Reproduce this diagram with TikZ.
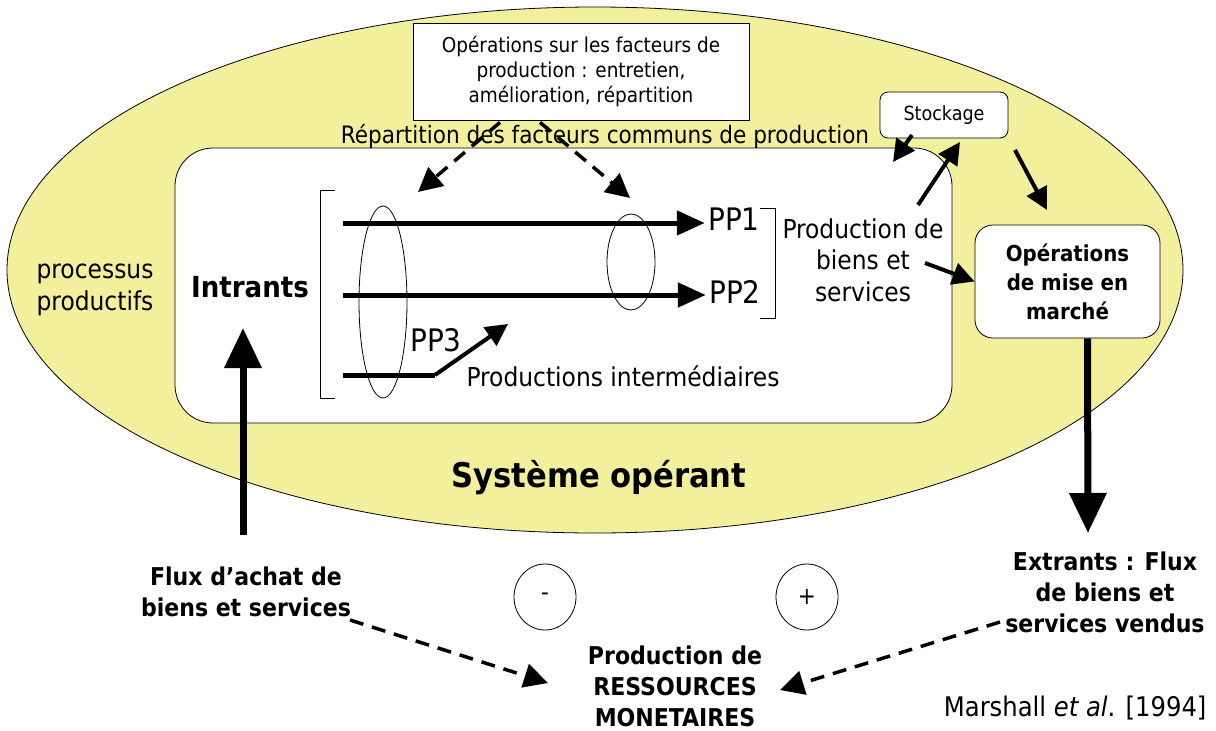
\documentclass[tikz,border=0pt]{standalone}
\usepackage{fontspec}
\setmainfont{DejaVu Sans Condensed}
\usepackage{xcolor}
\usetikzlibrary{positioning,arrows.meta,shapes.geometric}
\definecolor{jaune}{RGB}{243,240,157}

\begin{document}
\begin{tikzpicture}[x=1pt,y=-1pt,
        fleche/.style={line width=4pt, -{Triangle[length=22pt,width=22pt]}},
        grosse/.style={line width=7pt, -{Triangle[length=40pt,width=36pt]}},
        trait/.style={line width=5pt, -{Triangle[length=28pt,width=24pt]}},
        tirets/.style={line width=3.5pt, dash pattern=on 14pt off 9pt, -{Triangle[length=24pt,width=24pt]}},
        petit/.style={align=center, font=\fontsize{20.5}{25}\selectfont},
        moyen/.style={align=center, font=\fontsize{26}{31.5}\selectfont},
        gras/.style={align=center, font=\bfseries\fontsize{24.5}{31}\selectfont},
        rond/.style={ellipse, draw, thick, minimum width=62pt, minimum height=66pt, font=\fontsize{24}{28}\selectfont}]
        \useasboundingbox (0,0) rectangle (1216,731);
        \node[ellipse, draw, thick, fill=jaune, minimum width=1176pt, minimum height=526pt] (processus) at (595,270) {};
        \node[draw, thick, fill=white, rounded corners=38pt, minimum width=777pt, minimum height=275pt] (systeme) at (563.5,285.5) {};
        \node[draw, thick, fill=white, minimum width=336pt, minimum height=97pt, petit] (facteurs) at (581,71.5) {Opérations sur les facteurs de\\production : entretien,\\amélioration, répartition};
        \node[moyen, font=\fontsize{24}{30}\selectfont] (repartition) at (605,136) {Répartition des facteurs communs de production};
        \node[draw, thick, fill=white, rounded corners=8pt, minimum width=128pt, minimum height=46pt, petit, font=\fontsize{19.5}{24}\selectfont] (stockage) at (944,115) {Stockage};
        \node[draw, thick, fill=white, rounded corners=18pt, minimum width=185pt, minimum height=113pt, gras, font=\bfseries\fontsize{22}{29}\selectfont] (marche) at (1067.5,281.5) {Opérations\\de mise en\\marché};
        \node[moyen] (proc) at (95,290) {processus\\productifs};
        \node[gras, font=\bfseries\fontsize{29}{31}\selectfont] (intrants) at (250,287) {Intrants};
        \node[moyen] (biens) at (863,260) {Production de\\biens et\\services};
        \node[moyen, font=\fontsize{31}{34}\selectfont] (pp1) at (734,219) {PP1};
        \node[moyen, font=\fontsize{31}{34}\selectfont] (pp2) at (735,292) {PP2};
        \node[moyen, font=\fontsize{31}{34}\selectfont] (pp3) at (436,340) {PP3};
        \node[moyen] (interm) at (623,376) {Productions intermédiaires};
        \node[gras, font=\bfseries\fontsize{34}{38}\selectfont] (operant) at (599,478) {Système opérant};
        \node[gras] (achat) at (246,592) {Flux d’achat de\\biens et services};
        \node[gras] (extrants) at (1105,592) {Extrants : Flux\\de biens et\\services vendus};
        \node[gras, inner sep=0pt] (ressources) at (675,686) {Production de\\RESSOURCES\\MONETAIRES};
        \node[rond] (moins) at (545,597) {-};
        \node[rond] (plus) at (807,597) {+};
        \node[moyen, anchor=east, font=\fontsize{27}{31}\selectfont] (source) at (1210,708) {Marshall \textit{et al}. [1994]};
        \node[draw, thick, ellipse, minimum width=48pt, minimum height=192pt] (commun) at (383,302) {};
        \node[draw, thick, ellipse, minimum width=48pt, minimum height=96pt] (joint) at (631,262) {};
        \draw[thick] (335,190) -- (320,190) -- (320,398) -- (335,398);
        \draw[thick] (760,208) -- (775,208) -- (775,318) -- (760,318);
        \coordinate (a1) at (343,223);
        \coordinate (a2) at (343,295);
        \coordinate (a3) at (343,375);
        \coordinate (b3) at (435,375);
        \coordinate (c3) at (508,324);
        \coordinate (s1) at (912,135);
        \coordinate (s2) at (893,162);
        \coordinate (s3) at (918,205);
        \coordinate (s4) at (960,142);
        \coordinate (s5) at (1015,150);
        \coordinate (s6) at (1047,210);
        \draw[trait] (a1) -- (a1 -| pp1.west);
        \draw[trait] (a2) -- (a2 -| pp2.west);
        \draw[trait, -] (a3) -- (b3);
        \draw[fleche] (b3) -- (c3);
        \draw[tirets] (facteurs.south) ++(-81,2) -- (418,192);
        \draw[tirets] (facteurs.south) ++(-41,2) -- (630,198);
        \draw[fleche] (s1) -- (s2);
        \draw[fleche] (s3) -- (s4);
        \draw[fleche] (s5) -- (s6);
        \draw[fleche] (925,263) -- (marche.west);
        \draw[grosse] (marche.south) ++(20,0) -- (1088,533);
        \draw[grosse] (243,535) -- (243,328);
        \draw[tirets] (350,620) -- (548,683);
        \draw[tirets] (1000,622) -- (780,690);
\end{tikzpicture}
\end{document}
